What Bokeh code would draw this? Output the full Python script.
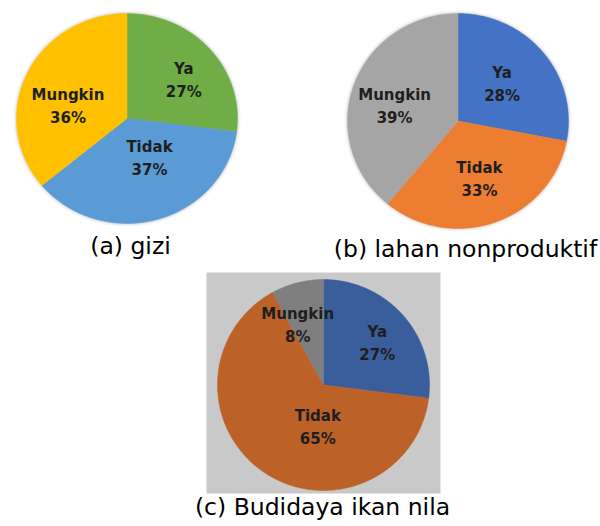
import numpy as np
from bokeh.plotting import figure
from bokeh.models import Range1d, ColumnDataSource
from bokeh.core.properties import value
from bokeh.embed import file_html
from bokeh.resources import INLINE

# ---- data ----
categories = ["Ya", "Tidak", "Mungkin"]
gizi_pct = [27, 37, 36]
lahan_pct = [28, 33, 39]
nila_pct = [27, 65, 8]
captions = ["(a) gizi", "(b) lahan nonproduktif", "(c) Budidaya ikan nila"]

# ---- styles ----
gizi_colors = ["#70AD47", "#5B9BD5", "#FFC000"]
lahan_colors = ["#4472C4", "#ED7D31", "#A5A5A5"]
nila_colors = ["#3A5D9C", "#BC6128", "#7F7F7F"]

# ---- layout (screen-like units, y downward) ----
panels = [
    dict(vals=gizi_pct, colors=gizi_colors, cx=126.5, cy=118, rx=110.5, ry=105,
         cap=(130, 245), nudge=[(7, 4), (4, -20), (1, 15)], shadow=True),
    dict(vals=lahan_pct, colors=lahan_colors, cx=457.5, cy=120.5, rx=110.5, ry=107.5,
         cap=(465, 248), nudge=[(-7, 5), (-1, -2), (-1, 7)], shadow=True),
    dict(vals=nila_pct, colors=nila_colors, cx=323, cy=384.5, rx=106, ry=105.5,
         cap=(322, 506), nudge=[(6, 0), (30, -10), (-10, 2)], shadow=False,
         box=(206, 440, 272, 493)),
]

p = figure(width=600, height=526, output_backend="svg", toolbar_location=None,
           x_range=Range1d(0, 600), y_range=Range1d(526, 0), min_border=0)
p.axis.visible = False
p.grid.visible = False
p.outline_line_color = None
p.background_fill_color = "white"

for idx, pn in enumerate(panels):
    cx, cy, rx, ry = pn["cx"], pn["cy"], pn["rx"], pn["ry"]
    if "box" in pn:
        l, r, t, b = pn["box"]
        p.quad(left=[l], right=[r], top=[t], bottom=[b], fill_color="#C9C9C9", line_color=None)
    if pn["shadow"]:
        th = np.linspace(0, 2 * np.pi, 400)
        for k, a in [(3, 0.10), (1.5, 0.18)]:
            p.patch(cx + (rx + k) * np.sin(th), cy - (ry + k) * np.cos(th),
                    fill_color="#9a9a9a", fill_alpha=a, line_color=None)
    vals = np.array(pn["vals"], dtype=float)
    fr = vals / vals.sum()
    ends = np.cumsum(fr) * 2 * np.pi
    starts = ends - fr * 2 * np.pi
    xs, ys, lx, ly = [], [], [], []
    for i in range(len(vals)):
        th = np.linspace(starts[i], ends[i], 200)
        xs.append(np.concatenate([[cx], cx + rx * np.sin(th), [cx]]))
        ys.append(np.concatenate([[cy], cy - ry * np.cos(th), [cy]]))
        mid = (starts[i] + ends[i]) / 2
        lx.append(cx + 0.6 * rx * np.sin(mid) + pn["nudge"][i][0])
        ly.append(cy - 0.6 * ry * np.cos(mid) + pn["nudge"][i][1])
    src = ColumnDataSource(dict(xs=xs, ys=ys, color=pn["colors"]))
    p.patches("xs", "ys", source=src, fill_color="color", line_color="color", line_width=0.5)
    lsrc = ColumnDataSource(dict(x=lx, y=ly, name=categories,
                                 pct=[f"{int(v)}%" for v in pn["vals"]]))
    p.text("x", "y", text="name", source=lsrc, y_offset=-11.5,
           text_font=value("DejaVu Sans"), text_font_style="bold", text_font_size="15px",
           text_color="#1e1e1e", text_align="center", text_baseline="middle")
    p.text("x", "y", text="pct", source=lsrc, y_offset=11.5,
           text_font=value("DejaVu Sans"), text_font_style="bold", text_font_size="15px",
           text_color="#1e1e1e", text_align="center", text_baseline="middle")
    p.text(x=[pn["cap"][0]], y=[pn["cap"][1]], text=[captions[idx]],
           text_font=value("DejaVu Sans"), text_font_size="23.5px", text_color="#000000",
           text_align="center", text_baseline="middle")

open("out.html", "w").write(file_html(p, INLINE))
